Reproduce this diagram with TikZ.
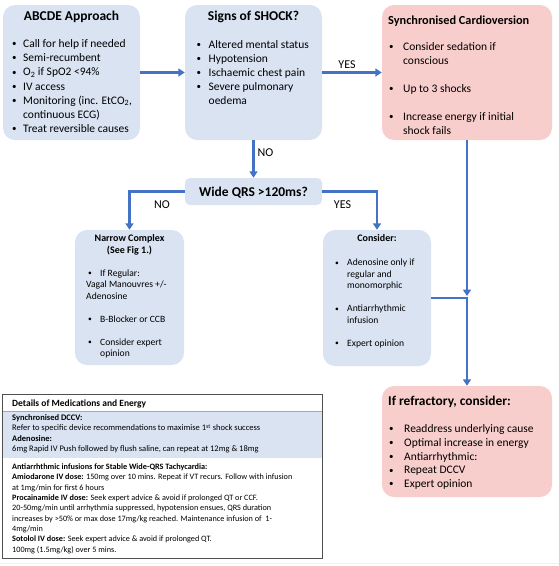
\documentclass[tikz,border=0pt]{standalone}
\usepackage{fontspec}
\setmainfont{Carlito}
\usepackage{array,graphicx}
\definecolor{boxblue}{RGB}{218,227,242}
\definecolor{boxpink}{RGB}{248,206,204}
\definecolor{arrblue}{RGB}{68,114,196}
\definecolor{sepblue}{RGB}{143,170,220}
\definecolor{framegray}{RGB}{80,80,80}
\usetikzlibrary{arrows.meta,positioning}

\newcommand{\bul}{\raisebox{0.07em}{\scalebox{0.78}{\textbullet}}}

\begin{document}
\begin{tikzpicture}[x=1pt,y=-1pt,
  bluebox/.style={fill=boxblue,rounded corners=12pt,inner sep=0pt},
  pinkbox/.style={fill=boxpink,rounded corners=12pt,inner sep=0pt},
  txt/.style={inner sep=0pt,anchor=base west},
  ttl/.style={inner sep=0pt,anchor=base},
  lbl/.style={inner sep=0pt,font=\fontsize{12}{14}\selectfont},
  arr/.style={draw=arrblue,line width=2.3pt,-{Triangle[length=6.5pt,width=8pt]}}]
  \useasboundingbox (0,0) rectangle (559,566);
  % Top row
  \node[bluebox,minimum width=137pt,minimum height=135pt] (abcde) at (71.5,72.5) {};
  \node[bluebox,minimum width=137pt,minimum height=135pt] (shock) at (253.5,72.5) {};
  \node[pinkbox,minimum width=170pt,minimum height=135pt] (cardio) at (467,72.5) {};
  \node[ttl,font=\fontsize{13.5}{16}\selectfont\bfseries] (abcdettl) at (71.5,20.3) {ABCDE Approach};
  \node[ttl,font=\fontsize{13.5}{16}\selectfont\bfseries] (shockttl) at (253.5,20.3) {Signs of SHOCK?};
  \node[txt,font=\fontsize{12.3}{15}\selectfont\bfseries] (cardiottl) at (388,24) {Synchronised Cardioversion};
  \node[txt,font=\fontsize{11.5}{14.1}\selectfont] (abcdelist) at (12,47.7) {\begin{tabular}[t]{@{}p{11pt}@{}l@{}}
    \bul & Call for help if needed\\
    \bul & Semi-recumbent\\
    \bul & O\textsubscript{2} if SpO2 <94\%\\
    \bul & IV access\\
    \bul & Monitoring (inc. EtCO\textsubscript{2},\\
         & continuous ECG)\\
    \bul & Treat reversible causes
  \end{tabular}};
  \node[txt,font=\fontsize{11.5}{14}\selectfont] (shocklist) at (196.5,48.7) {\begin{tabular}[t]{@{}p{12pt}@{}l@{}}
    \bul & Altered mental status\\
    \bul & Hypotension\\
    \bul & Ischaemic chest pain\\
    \bul & Severe pulmonary\\
         & oedema
  \end{tabular}};
  \node[txt,font=\fontsize{11.5}{14}\selectfont] (cardiolist) at (389,50.7) {\begin{tabular}[t]{@{}p{14pt}@{}l@{}}
    \bul & Consider sedation if\\
         & conscious\\[14pt]
    \bul & Up to 3 shocks\\[14pt]
    \bul & Increase energy if initial\\
         & shock fails
  \end{tabular}};
  % QRS split
  \node[fill=boxblue,rounded corners=5pt,minimum width=137pt,minimum height=27pt] (wide) at (253.5,191.5) {};
  \node[ttl,font=\fontsize{13.5}{16}\selectfont\bfseries] (widettl) at (253.5,196.3) {Wide QRS >120ms?};
  \node[bluebox,minimum width=109pt,minimum height=135pt] (narrow) at (129.5,297.5) {};
  \node[bluebox,minimum width=108pt,minimum height=136pt] (consider) at (377,298) {};
  \node[ttl,font=\fontsize{10}{12}\selectfont\bfseries] (narrowttl) at (129.5,241.2) {\begin{tabular}[t]{@{}c@{}}Narrow Complex\\(See Fig 1.)\end{tabular}};
  \node[ttl,font=\fontsize{10}{12}\selectfont\bfseries] (considerttl) at (377,241.2) {Consider:};
  \node[txt,font=\fontsize{9.6}{11.5}\selectfont] (narrowlist) at (88,276) {\begin{tabular}[t]{@{}p{12pt}@{}l@{}}
    \bul & If Regular:\\
    \multicolumn{2}{@{}l@{}}{\hspace{-2pt}Vagal Manouvres +/-}\\
    \multicolumn{2}{@{}l@{}}{\hspace{-2pt}Adenosine}\\[11.5pt]
    \bul & B-Blocker or CCB\\[11.5pt]
    \bul & Consider expert\\
         & opinion
  \end{tabular}};
  \node[txt,font=\fontsize{9.6}{11.5}\selectfont] (considerlist) at (335,265.8) {\begin{tabular}[t]{@{}p{12pt}@{}l@{}}
    \bul & Adenosine only if\\
         & regular and\\
         & monomorphic\\[11.5pt]
    \bul & Antiarrhythmic\\
         & infusion\\[11.5pt]
    \bul & Expert opinion
  \end{tabular}};
  % Refractory
  \node[pinkbox,minimum width=170pt,minimum height=111pt] (refr) at (467,441.5) {};
  \node[txt,font=\fontsize{13.4}{16}\selectfont\bfseries] (refrttl) at (388,405.3) {If refractory, consider:};
  \node[txt,font=\fontsize{11.5}{13.75}\selectfont] (refrlist) at (389,432.7) {\begin{tabular}[t]{@{}p{15pt}@{}l@{}}
    \bul & Readdress underlying cause\\
    \bul & Optimal increase in energy\\
    \bul & Antiarrhythmic:\\
    \bul & Repeat DCCV\\
    \bul & Expert opinion
  \end{tabular}};
  % Details table
  \node[fill=white,inner sep=0pt,minimum width=319pt,minimum height=163pt] (det) at (162.5,476.5) {};
  \fill[boxblue] (3,411) rectangle (322,458);
  \draw[sepblue,line width=0.8pt] (3,411) -- (322,411);
  \draw[framegray,line width=1.3pt] (det.north west) rectangle (det.south east);
  \node[txt,font=\fontsize{9.5}{11}\selectfont\bfseries] (dethead) at (12,406.2) {Details of Medications and Energy};
  \node[txt,font=\fontsize{8.5}{10.2}\selectfont] (detband) at (12,420.7) {\begin{tabular}[t]{@{}l@{}}
    \textbf{Synchronised DCCV:}\\
    Refer to specific device recommendations to maximise 1\textsuperscript{st} shock success\\
    \textbf{Adenosine:}\\
    6mg Rapid IV Push followed by flush saline, can repeat at 12mg \& 18mg
  \end{tabular}};
  \node[txt,font=\fontsize{8.2}{10.3}\selectfont] (detbody) at (12,469.6) {\begin{tabular}[t]{@{}l@{}}
    \textbf{Antiarrhthmic infusions for Stable Wide-QRS Tachycardia:}\\
    \textbf{Amiodarone IV dose:} 150mg over 10 mins. Repeat if VT recurs. Follow with infusion\\
    at 1mg/min for first 6 hours\\
    \textbf{Procainamide IV dose:} Seek expert advice \& avoid if prolonged QT or CCF.\\
    20-50mg/min until arrhythmia suppressed, hypotension ensues, QRS duration\\
    increases by >50\% or max dose 17mg/kg reached. Maintenance infusion of\ \ 1-\\
    4mg/min\\
    \textbf{Sotolol IV dose:} Seek expert advice \& avoid if prolonged QT.\\
    100mg (1.5mg/kg) over 5 mins.
  \end{tabular}};
  \draw[gray!12,line width=0.6pt] (0,563.5) -- (559,563.5);
  % Connectors
  \coordinate (jn) at (cardio.south |- consider.east);
  \draw[arr] (abcde) -- (shock);
  \draw[arr] (shock) -- (cardio);
  \draw[arr] (shock) -- (wide);
  \draw[arr] (wide.west) -| (narrow.north);
  \draw[arr] (wide.east) -| (consider.north);
  \draw[arr,shorten >=2pt] (cardio.south) -- (jn);
  \draw[arr] (consider.east) -- (jn) -- (refr.north);
  \node[lbl] (yes1) at (347,65) {YES};
  \node[lbl] (no1) at (265.5,152.7) {NO};
  \node[lbl] (no2) at (162,205) {NO};
  \node[lbl] (yes2) at (342.5,205) {YES};
\end{tikzpicture}
\end{document}
